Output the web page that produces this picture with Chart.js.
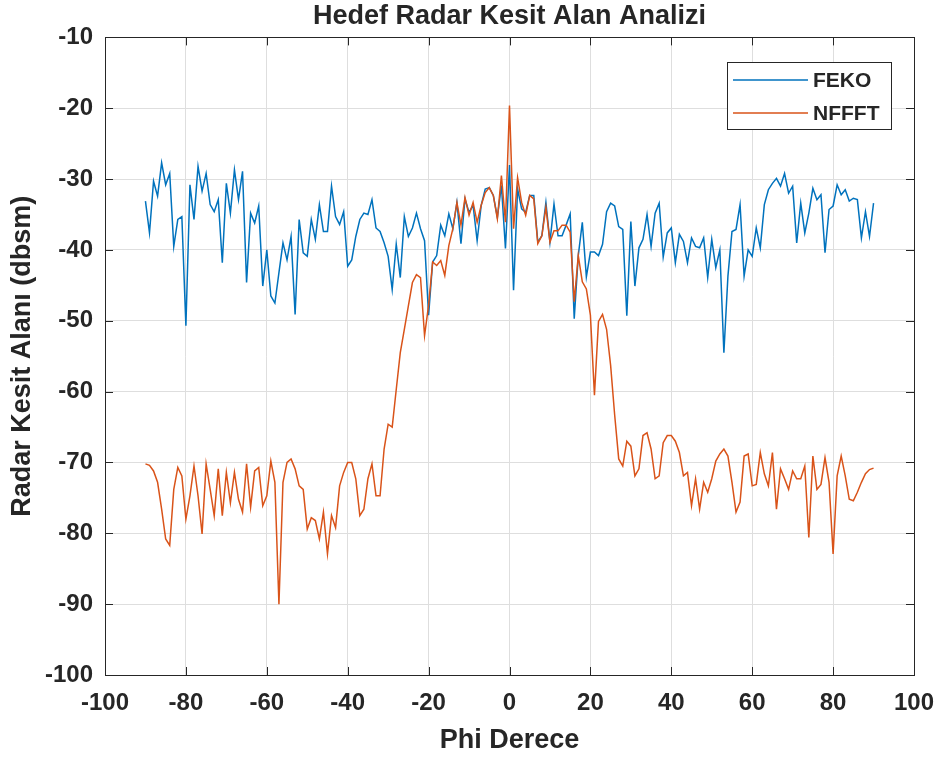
<!DOCTYPE html>
<html>
<head>
<meta charset="utf-8">
<title>Hedef Radar Kesit Alan Analizi</title>
<script src="https://cdn.jsdelivr.net/npm/chart.js@4/dist/chart.umd.min.js"></script>
<style>
  html, body { margin:0; padding:0; background:#fff; }
  #wrap { width:938px; height:760px; position:relative; }
</style>
</head>
<body>
<div id="wrap"><canvas id="rcs"></canvas></div>
<script>
/* RCS comparison plot: FEKO vs NFFFT, phi sweep -90..90 deg */
const PHI = [
  -90,-89,-88,-87,-86,-85,-84,-83,-82,-81,-80,-79,-78,-77,-76,-75,-74,-73,-72,-71,
  -70,-69,-68,-67,-66,-65,-64,-63,-62,-61,-60,-59,-58,-57,-56,-55,-54,-53,-52,-51,
  -50,-49,-48,-47,-46,-45,-44,-43,-42,-41,-40,-39,-38,-37,-36,-35,-34,-33,-32,-31,
  -30,-29,-28,-27,-26,-25,-24,-23,-22,-21,-20,-19,-18,-17,-16,-15,-14,-13,-12,-11,
  -10,-9,-8,-7,-6,-5,-4,-3,-2,-1,0,1,2,3,4,5,6,7,8,9,
  10,11,12,13,14,15,16,17,18,19,20,21,22,23,24,25,26,27,28,29,
  30,31,32,33,34,35,36,37,38,39,40,41,42,43,44,45,46,47,48,49,
  50,51,52,53,54,55,56,57,58,59,60,61,62,63,64,65,66,67,68,69,
  70,71,72,73,74,75,76,77,78,79,80,81,82,83,84,85,86,87,88,89,90
];

const FEKO = [
  -33.1,-37.6,-30.3,-32.4,-27.7,-30.8,-29.2,-39.5,-35.7,-35.3,-50.7,-30.8,-35.7,-28.2,-31.7,-29.2,-33.6,-34.6,-32.9,-41.8,
  -30.6,-34.8,-28.7,-32.9,-28.9,-44.6,-34.8,-36.2,-33.8,-45.1,-40.0,-46.5,-47.5,-43.2,-39.0,-41.4,-38.1,-49.1,-35.7,-40.4,
  -40.9,-35.7,-38.5,-33.6,-37.4,-37.4,-31.0,-35.3,-36.4,-34.6,-42.3,-41.4,-38.1,-35.7,-34.8,-35.0,-32.9,-36.9,-37.4,-39.0,
  -40.9,-45.6,-39.2,-43.9,-35.3,-38.1,-36.9,-34.8,-37.0,-38.7,-49.2,-41.7,-40.8,-36.5,-38.0,-34.9,-37.0,-33.3,-39.1,-32.8,
  -34.7,-33.7,-38.7,-33.7,-31.4,-31.2,-32.3,-35.4,-30.9,-39.8,-28.0,-45.7,-31.4,-34.2,-34.7,-32.3,-32.3,-38.9,-38.0,-33.3,
  -38.9,-33.5,-38.0,-38.0,-36.5,-34.9,-49.7,-40.8,-36.1,-43.8,-40.3,-40.3,-40.8,-39.2,-34.6,-33.4,-33.8,-36.7,-37.1,-49.3,
  -36.0,-45.1,-39.7,-38.5,-35.0,-39.5,-34.8,-33.4,-41.0,-37.6,-36.9,-41.8,-37.8,-38.8,-41.8,-38.3,-39.5,-39.7,-38.3,-43.9,
  -38.5,-42.5,-40.0,-54.5,-43.7,-37.4,-37.1,-33.6,-43.7,-40.0,-40.9,-36.9,-39.7,-33.6,-31.5,-30.6,-29.9,-31.0,-29.2,-32.0,
  -31.0,-39.0,-33.4,-37.6,-34.8,-31.3,-32.9,-32.2,-40.4,-34.3,-33.8,-30.8,-32.2,-31.5,-33.1,-32.7,-32.9,-38.3,-34.6,-38.1,-33.4
];

const NFFFT = [
  -70.2,-70.4,-71.2,-72.8,-76.6,-80.8,-81.7,-73.8,-70.7,-71.9,-78.0,-74.7,-70.5,-74.7,-80.1,-70.2,-73.8,-77.5,-70.9,-77.5,
  -71.4,-75.7,-71.4,-75.2,-77.0,-70.2,-76.3,-71.2,-70.7,-76.1,-74.7,-69.8,-72.8,-90.0,-72.8,-70.0,-69.5,-70.9,-73.3,-73.8,
  -79.4,-77.8,-78.2,-80.8,-77.0,-82.9,-77.5,-79.2,-73.3,-71.4,-70.0,-70.0,-72.3,-77.5,-76.6,-72.3,-70.2,-74.7,-74.7,-68.1,
  -64.6,-65.0,-59.7,-54.5,-51.2,-47.9,-44.6,-43.5,-43.9,-52.1,-47.8,-41.7,-42.2,-41.5,-43.6,-39.4,-37.0,-33.3,-36.5,-32.6,
  -35.1,-33.3,-36.1,-33.7,-31.9,-31.2,-32.3,-35.6,-29.5,-36.1,-19.6,-37.0,-29.8,-33.3,-35.1,-32.3,-32.8,-39.1,-38.0,-34.0,
  -38.9,-37.3,-37.3,-36.5,-36.5,-37.5,-47.3,-40.8,-44.5,-45.5,-49.2,-60.5,-50.1,-49.1,-51.2,-56.3,-63.3,-69.5,-70.5,-67.0,
  -67.7,-71.9,-70.9,-66.2,-65.8,-68.1,-72.3,-71.9,-67.2,-66.2,-66.2,-67.0,-68.6,-71.9,-71.4,-76.1,-72.3,-76.6,-72.8,-74.2,
  -72.3,-69.8,-68.8,-68.1,-69.1,-72.8,-77.0,-75.6,-69.1,-68.8,-73.3,-73.1,-68.6,-71.6,-73.3,-68.6,-76.6,-70.9,-72.3,-73.8,
  -71.2,-72.3,-72.3,-70.5,-80.6,-69.1,-73.8,-73.1,-69.3,-72.8,-82.9,-71.9,-69.1,-71.9,-75.2,-75.4,-74.2,-72.8,-71.6,-71.0,-70.8
];

const X_TICKS = [-100,-80,-60,-40,-20,0,20,40,60,80,100];
const Y_TICKS = [-100,-90,-80,-70,-60,-50,-40,-30,-20,-10];

const INK = '#262626';
const GRID = '#dedede';
const FONT = "'Liberation Sans', Arial, Helvetica, sans-serif";

function pairs(xs, ys){ return xs.map((x,i)=>({ x, y: ys[i] })); }

// MATLAB-like box: frame, inward tick marks, legend inside the axes
const axesBox = {
  id: 'axesBox',
  afterDraw(chart){
    const { ctx, chartArea:a, scales } = chart;
    const tl = 8;
    ctx.save();
    ctx.strokeStyle = INK;
    ctx.lineWidth = 1;
    ctx.beginPath();
    X_TICKS.forEach(v=>{
      const px = Math.round(scales.x.getPixelForValue(v)) + 0.5;
      ctx.moveTo(px, a.bottom); ctx.lineTo(px, a.bottom - tl);
      ctx.moveTo(px, a.top); ctx.lineTo(px, a.top + tl);
    });
    Y_TICKS.forEach(v=>{
      const py = Math.round(scales.y.getPixelForValue(v)) + 0.5;
      ctx.moveTo(a.left, py); ctx.lineTo(a.left + tl, py);
      ctx.moveTo(a.right, py); ctx.lineTo(a.right - tl, py);
    });
    ctx.stroke();
    ctx.strokeRect(Math.round(a.left)+0.5, Math.round(a.top)+0.5,
                   Math.round(a.right - a.left), Math.round(a.bottom - a.top));

    // legend
    const lx = 727, ly = 62, lw = 164, lh = 67;
    ctx.fillStyle = '#fff';
    ctx.fillRect(lx, ly, lw, lh);
    ctx.strokeRect(lx + 0.5, ly + 0.5, lw, lh);
    ctx.font = `bold 21px ${FONT}`;
    ctx.textBaseline = 'middle';
    ctx.textAlign = 'left';
    const rows = [chart.data.datasets[1], chart.data.datasets[0]];
    rows.forEach((ds, i)=>{
      const y = ly + 18 + i * 33;
      ctx.strokeStyle = ds.borderColor;
      ctx.lineWidth = 1.5;
      ctx.beginPath(); ctx.moveTo(733, y); ctx.lineTo(808, y); ctx.stroke();
      ctx.fillStyle = INK;
      ctx.fillText(ds.label, 813, y + 1);
    });
    ctx.restore();
  }
};

function main(){
  Chart.defaults.font.family = FONT;
  Chart.defaults.color = INK;
  new Chart(document.getElementById('rcs'), {
    type: 'line',
    data: {
      datasets: [
        { label:'NFFFT', data: pairs(PHI, NFFFT), borderColor:'#D95319', borderWidth:1.5,
          pointRadius:0, tension:0, fill:false, order:0 },
        { label:'FEKO', data: pairs(PHI, FEKO), borderColor:'#0072BD', borderWidth:1.5,
          pointRadius:0, tension:0, fill:false, order:1 }
      ]
    },
    options: {
      responsive: true,
      maintainAspectRatio: false,
      animation: false,
      layout: { padding: { left:0, right:24, top:0, bottom:0 } },
      plugins: {
        legend: { display:false },
        tooltip: { enabled:false },
        title: {
          display: true,
          fullSize: false,
          text: 'Hedef Radar Kesit Alan Analizi',
          color: INK,
          font: { size:27, weight:'bold' },
          padding: { top:0, bottom:5 }
        }
      },
      scales: {
        x: {
          type: 'linear', min: -100, max: 100,
          afterBuildTicks: s => { s.ticks = X_TICKS.map(v=>({ value:v })); },
          afterFit: s => { s.height = 85; s.paddingLeft = 0; s.paddingRight = 0; },
          grid: { color: GRID, drawTicks:false },
          border: { display:false },
          ticks: { padding:14, color: INK, font:{ size:24, weight:'bold' }, maxRotation:0 },
          title: { display:true, text:'Phi Derece', color: INK,
                   font:{ size:27, weight:'bold' }, padding:{ top:0, bottom:3 } }
        },
        y: {
          type: 'linear', min: -100, max: -10,
          afterBuildTicks: s => { s.ticks = Y_TICKS.map(v=>({ value:v })); },
          afterFit: s => { s.width = 105; s.paddingTop = 0; s.paddingBottom = 0; },
          grid: { color: GRID, drawTicks:false },
          border: { display:false },
          ticks: { padding:12, color: INK, font:{ size:24, weight:'bold' } },
          title: { display:true, text:'Radar Kesit Alanı (dbsm)', color: INK,
                   font:{ size:27, weight:'bold' }, padding:{ top:6, bottom:0 } }
        }
      }
    },
    plugins: [axesBox]
  });
}
document.addEventListener('DOMContentLoaded', main);
</script>
</body>
</html>
